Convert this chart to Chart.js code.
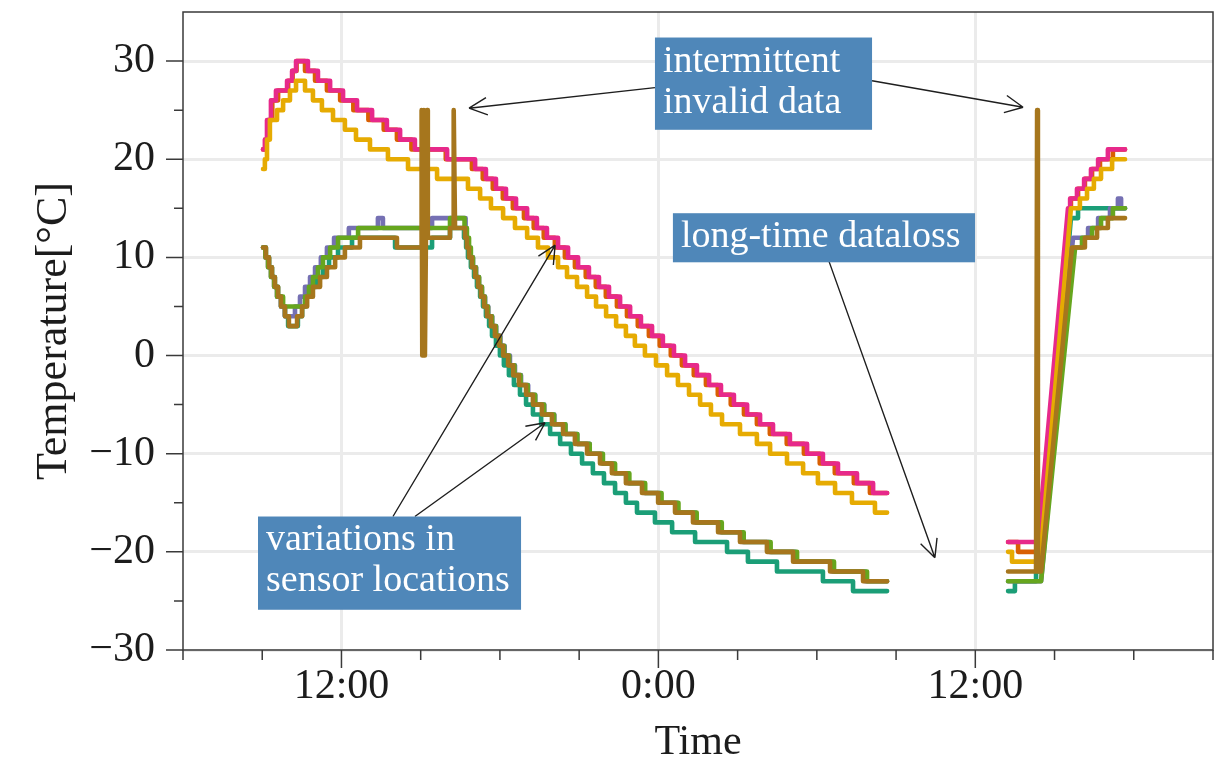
<!DOCTYPE html>
<html>
<head>
<meta charset="utf-8">
<script src="https://cdn.jsdelivr.net/npm/chart.js@4.4.0/dist/chart.umd.min.js"></script>
<style>
  html, body { margin: 0; padding: 0; background: #fff; }
  canvas { display: block; }
</style>
</head>
<body>
<canvas id="chart" width="1214" height="761"></canvas>
<script>
'use strict';

// [hours since midnight of day 1, temperature in degC]; null marks the long data gap
const teal = [
  [9.03, 11], [9.14, 10], [9.26, 9], [9.37, 8], [9.48, 7], [9.60, 6], [9.71, 5], [9.86, 4], [9.98, 3],
  [10.35, 4], [10.51, 5], [10.66, 6], [10.85, 7], [11.04, 8], [11.30, 9], [11.53, 10], [11.87, 11], [12.40, 12],
  [14.03, 11], [15.43, 12], [16.11, 13],
  [16.64, 12], [16.72, 11], [16.79, 10], [16.90, 9], [17.02, 8], [17.13, 7], [17.25, 6], [17.36, 5], [17.47, 4],
  [17.59, 3], [17.70, 2], [17.85, 1], [18.00, 0], [18.15, -1], [18.34, -2], [18.53, -3], [18.76, -4], [18.99, -5],
  [19.25, -6], [19.56, -7], [19.90, -8], [20.28, -9], [20.69, -10], [21.11, -11], [21.52, -12], [21.94, -13],
  [22.36, -14], [22.77, -15], [23.19, -16], [23.87, -17], [24.52, -18], [25.39, -19], [26.60, -20], [27.39, -21],
  [28.49, -22], [30.23, -23], [31.37, -24], [32.66, -24],
  [35, null],
  [37.24, -24], [37.50, -23], [38.30, -22], [38.49, -22], [39.62, 14], [39.89, 15], [41.67, 15]
];

const orange = [
  [9.03, 21], [9.12, 22], [9.22, 24], [9.38, 26], [9.60, 27], [9.98, 28], [10.15, 29], [10.30, 30], [10.62, 29],
  [11.00, 28], [11.45, 27], [11.95, 26], [12.45, 25], [13.02, 24], [13.60, 23], [14.10, 22], [14.65, 21], [15.95, 20],
  [16.94, 19], [17.35, 18], [17.73, 17], [18.11, 16], [18.49, 15], [18.91, 14], [19.28, 13], [19.66, 12], [20.08, 11],
  [20.46, 10], [20.84, 9], [21.25, 8], [21.63, 7], [22.01, 6], [22.43, 5], [22.81, 4], [23.22, 3], [23.64, 2],
  [24.05, 1], [24.47, 0], [24.89, -1], [25.34, -2], [25.80, -3], [26.25, -4], [26.74, -5], [27.24, -6], [27.73, -7],
  [28.22, -8], [28.86, -9], [29.51, -10], [30.11, -11], [30.68, -12], [31.40, -13], [32.01, -14], [32.66, -14],
  [35, null],
  [37.24, -19], [37.62, -20], [38.41, -20], [39.55, 15], [39.62, 16], [39.89, 17], [40.15, 18], [40.42, 19],
  [40.72, 20], [41.21, 21], [41.67, 21]
];

const purple = [
  [9.03, 11], [9.12, 10], [9.22, 9], [9.33, 8], [9.45, 7], [9.56, 6], [9.71, 5], [9.86, 4], [10.24, 5], [10.43, 6],
  [10.62, 7], [10.81, 8], [11.00, 9], [11.22, 10], [11.45, 11], [11.72, 12], [12.28, 13], [13.38, 14], [13.57, 13],
  [15.43, 14],
  [16.70, 13], [16.74, 12], [16.80, 11], [16.88, 10], [16.98, 9], [17.10, 8], [17.21, 7], [17.32, 6], [17.44, 5],
  [17.56, 4], [17.71, 3], [17.86, 2], [18.02, 1], [18.18, 0], [18.38, -1], [18.57, -2], [18.80, -3], [19.07, -4],
  [19.34, -5], [19.68, -6], [20.06, -7], [20.48, -8], [20.93, -9], [21.40, -10], [21.88, -11], [22.33, -12],
  [22.86, -13], [23.46, -14], [24.07, -15], [24.71, -16], [25.40, -17], [26.34, -18], [27.17, -19], [28.19, -20],
  [29.18, -21], [30.58, -22], [31.83, -23], [32.66, -23],
  [35, null],
  [37.24, -23], [38.49, -23], [39.70, 12], [40.27, 13], [40.65, 14], [41.10, 15], [41.40, 16], [41.52, 15], [41.67, 15]
];

const pink = [
  [9.03, 21], [9.10, 22], [9.18, 24], [9.33, 26], [9.52, 27], [9.94, 28], [10.13, 29], [10.28, 30], [10.73, 29],
  [11.11, 28], [11.57, 27], [12.06, 26], [12.59, 25], [13.16, 24], [13.72, 23], [14.22, 22], [14.78, 21], [16.00, 20],
  [17.06, 19], [17.47, 18], [17.85, 17], [18.23, 16], [18.61, 15], [19.03, 14], [19.40, 13], [19.78, 12], [20.20, 11],
  [20.58, 10], [20.96, 9], [21.37, 8], [21.75, 7], [22.13, 6], [22.55, 5], [22.93, 4], [23.34, 3], [23.76, 2],
  [24.17, 1], [24.59, 0], [25.01, -1], [25.46, -2], [25.92, -3], [26.37, -4], [26.86, -5], [27.36, -6], [27.85, -7],
  [28.34, -8], [28.98, -9], [29.63, -10], [30.23, -11], [30.80, -12], [31.52, -13], [32.13, -14], [32.66, -14],
  [35, null],
  [37.24, -19], [38.37, -19], [39.51, 15], [39.59, 16], [39.85, 17], [40.12, 18], [40.38, 19], [40.65, 20],
  [41.02, 21], [41.67, 21]
];

const green = [
  [9.03, 11], [9.12, 10], [9.22, 9], [9.33, 8], [9.45, 7], [9.56, 6], [9.79, 5], [10.62, 6], [10.77, 7], [10.92, 8],
  [11.11, 9], [11.30, 10], [11.57, 11], [11.87, 12], [12.63, 13], [16.11, 14],
  [16.66, 13], [16.75, 12], [16.83, 11], [16.90, 10], [16.98, 9], [17.09, 8], [17.21, 7], [17.32, 6], [17.43, 5],
  [17.55, 4], [17.70, 3], [17.85, 2], [18.00, 1], [18.16, 0], [18.35, -1], [18.55, -2], [18.78, -3], [19.05, -4],
  [19.33, -5], [19.67, -6], [20.05, -7], [20.48, -8], [20.93, -9], [21.40, -10], [21.90, -11], [22.36, -12],
  [22.90, -13], [23.50, -14], [24.12, -15], [24.76, -16], [25.45, -17], [26.40, -18], [27.23, -19], [28.25, -20],
  [29.25, -21], [30.65, -22], [31.90, -23], [32.66, -23],
  [35, null],
  [37.24, -23], [38.49, -23], [39.78, 11], [40.04, 12], [40.42, 13], [40.76, 14], [41.21, 15], [41.67, 15]
];

const yellow = [
  [9.03, 19], [9.10, 20], [9.18, 22], [9.29, 24], [9.56, 25], [9.79, 26], [10.05, 27], [10.28, 28], [10.62, 27],
  [10.92, 26], [11.26, 25], [11.68, 24], [12.13, 23], [12.55, 22], [13.08, 21], [13.76, 20], [14.52, 19], [15.62, 18],
  [16.79, 17], [17.25, 16], [17.66, 15], [18.12, 14], [18.57, 13], [19.03, 12], [19.44, 11], [19.82, 10], [20.20, 9],
  [20.54, 8], [20.92, 7], [21.30, 6], [21.64, 5], [22.02, 4], [22.40, 3], [22.77, 2], [23.11, 1], [23.49, 0],
  [23.91, -1], [24.33, -2], [24.74, -3], [25.16, -4], [25.58, -5], [25.99, -6], [26.41, -7], [27.09, -8], [27.73, -9],
  [28.23, -10], [28.87, -11], [29.48, -12], [30.04, -13], [30.69, -14], [31.33, -15], [32.20, -16], [32.66, -16],
  [35, null],
  [37.24, -20], [37.39, -21], [38.45, -21], [39.62, 15], [39.96, 16], [40.23, 17], [40.49, 18], [40.76, 19],
  [41.18, 20], [41.67, 20]
];

const brown = [
  [9.03, 11], [9.14, 10], [9.26, 9], [9.37, 8], [9.48, 7], [9.60, 6], [9.71, 5], [9.86, 4], [10.01, 3], [10.32, 4],
  [10.51, 5], [10.70, 6], [10.92, 7], [11.19, 8], [11.45, 9], [11.76, 10], [12.13, 11], [12.70, 12], [14.10, 11],
  [15.03, 11], [15.04, 25], [15.06, 0], [15.12, 25], [15.16, 0], [15.24, 25], [15.27, 12],
  [16.11, 13], [16.24, 13], [16.26, 25], [16.30, 13],
  [16.68, 12], [16.75, 11], [16.83, 10], [16.94, 9], [17.06, 8], [17.17, 7], [17.28, 6], [17.40, 5], [17.51, 4],
  [17.66, 3], [17.81, 2], [17.97, 1], [18.12, 0], [18.31, -1], [18.50, -2], [18.72, -3], [18.99, -4], [19.25, -5],
  [19.59, -6], [19.97, -7], [20.39, -8], [20.84, -9], [21.30, -10], [21.79, -11], [22.24, -12], [22.77, -13],
  [23.38, -14], [23.99, -15], [24.63, -16], [25.31, -17], [26.26, -18], [27.09, -19], [28.11, -20], [29.10, -21],
  [30.50, -22], [31.75, -23], [32.66, -23],
  [35, null],
  [37.24, -22], [38.30, -22], [38.34, 25], [38.37, -22], [38.49, -22], [39.66, 11], [40.15, 12], [40.61, 13],
  [41.02, 14], [41.67, 14]
];

// axis ticks: hours of day 1 (24 = midnight), degC
const xLabelHours = [12, 24, 36];
const xLabelText = ['12:00', '0:00', '12:00'];
const yLabelValues = [-30, -20, -10, 0, 10, 20, 30];

const SERIF = "'Liberation Serif', 'DejaVu Serif', serif";
const INK = '#1c1c1c';

// annotations, placed in data units (hours, degC)
const noteBoxes = [
  { x0: 23.87, x1: 32.09, top: 32.4, bottom: 23.0, lines: ['intermittent', 'invalid data'] },
  { x0: 24.55, x1: 35.99, top: 14.5, bottom: 9.5, lines: ['long-time dataloss'] },
  { x0: 8.84, x1: 18.80, top: -16.4, bottom: -25.9, lines: ['variations in', 'sensor locations'] }
];
const noteArrows = [
  [23.87, 27.3, 16.83, 25.2],
  [32.09, 28.0, 37.81, 25.3],
  [30.42, 9.9, 34.47, -20.6],
  [13.95, -16.4, 20.09, 11.25],
  [14.78, -16.4, 19.71, -6.85]
];

// samples are held until the next one; big jumps (gaps, spikes) are drawn straight
function toPoints(samples) {
  const pts = [];
  let prev = null;
  for (const [t, v] of samples) {
    if (v !== null && prev !== null && Math.abs(v - prev) <= 5) pts.push({ x: t, y: prev });
    pts.push({ x: t, y: v });
    prev = v;
  }
  return pts;
}

function line(data, color) {
  return {
    data: toPoints(data),
    borderColor: color,
    borderWidth: 4.6,
    pointRadius: 0,
    fill: false,
    tension: 0,
    spanGaps: false,
    borderCapStyle: 'round',
    borderJoinStyle: 'round'
  };
}

// drop the extra room Chart.js keeps for edge labels, so the plot box fills the frame
function noEdgePadding(s) {
  s.paddingTop = 0;
  s.paddingBottom = 0;
  s.paddingLeft = 0;
  s.paddingRight = 0;
}

const notesPlugin = {
  id: 'notes',
  afterDatasetsDraw(chart) {
    const { ctx, scales: { x, y } } = chart;
    ctx.save();
    ctx.strokeStyle = '#1e1e1e';
    ctx.lineWidth = 1.4;
    for (const [t0, v0, t1, v1] of noteArrows) {
      const ax = x.getPixelForValue(t0), ay = y.getPixelForValue(v0);
      const bx = x.getPixelForValue(t1), by = y.getPixelForValue(v1);
      const ang = Math.atan2(by - ay, bx - ax);
      ctx.beginPath();
      ctx.moveTo(ax, ay);
      ctx.lineTo(bx, by);
      for (const s of [-1, 1]) {
        ctx.moveTo(bx - 20 * Math.cos(ang + s * 0.45), by - 20 * Math.sin(ang + s * 0.45));
        ctx.lineTo(bx, by);
      }
      ctx.stroke();
    }
    ctx.font = '38px ' + SERIF;
    ctx.textBaseline = 'middle';
    ctx.textAlign = 'left';
    for (const b of noteBoxes) {
      const left = x.getPixelForValue(b.x0), right = x.getPixelForValue(b.x1);
      const top = y.getPixelForValue(b.top), bottom = y.getPixelForValue(b.bottom);
      ctx.fillStyle = '#4f87b9';
      ctx.fillRect(left, top, right - left, bottom - top);
      ctx.fillStyle = '#ffffff';
      b.lines.forEach((txt, i) => ctx.fillText(txt, left + 8, top + 24 + i * 41));
    }
    ctx.restore();
  }
};

const framePlugin = {
  id: 'frame',
  afterDraw(chart) {
    const { ctx, chartArea: a, scales: { x, y } } = chart;
    ctx.save();
    ctx.strokeStyle = '#3a3a3a';
    ctx.lineWidth = 1.5;
    ctx.beginPath();
    y.ticks.forEach(t => {
      if (t.value > 30) return;
      const py = y.getPixelForValue(t.value);
      ctx.moveTo(a.left, py);
      ctx.lineTo(a.left - (t.value % 10 === 0 ? 17 : 9), py);
    });
    x.ticks.forEach(t => {
      const px = x.getPixelForValue(t.value);
      ctx.moveTo(px, a.bottom);
      ctx.lineTo(px, a.bottom + (t.value % 12 === 0 ? 18 : 10));
    });
    ctx.stroke();
    ctx.strokeRect(a.left, a.top, a.right - a.left, a.bottom - a.top);
    ctx.restore();
  }
};

new Chart(document.getElementById('chart'), {
  type: 'line',
  data: {
    // first dataset is painted last, so the brown sensor sits on top
    datasets: [
      line(brown, '#a6761d'),
      line(yellow, '#e6ab02'),
      line(green, '#66a61e'),
      line(pink, '#e7298a'),
      line(purple, '#7570b3'),
      line(orange, '#d95f02'),
      line(teal, '#1b9e77')
    ]
  },
  options: {
    responsive: false,
    animation: false,
    devicePixelRatio: 1,
    layout: { padding: { top: 12, right: 1, left: 0, bottom: 0 } },
    plugins: { legend: { display: false }, tooltip: { enabled: false } },
    scales: {
      x: {
        type: 'linear',
        min: 6,
        max: 45,
        afterFit: s => { s.height = 111; noEdgePadding(s); },
        border: { display: false },
        grid: {
          drawTicks: false,
          lineWidth: 3,
          color: c => (c.tick && xLabelHours.includes(c.tick.value)) ? '#ebebeb' : 'rgba(0,0,0,0)'
        },
        ticks: {
          stepSize: 3,
          autoSkip: false,
          maxRotation: 0,
          padding: 12,
          color: INK,
          font: { family: SERIF, size: 42 },
          callback: v => {
            const i = xLabelHours.indexOf(v);
            return i >= 0 ? xLabelText[i] : '';
          }
        },
        title: {
          display: true,
          text: 'Time',
          color: INK,
          font: { family: SERIF, size: 42, lineHeight: 0.86 },
          padding: { top: 0, bottom: 0 }
        }
      },
      y: {
        min: -30,
        max: 35,
        afterFit: s => { s.width = 183; noEdgePadding(s); },
        border: { display: false },
        grid: {
          drawTicks: false,
          lineWidth: 3,
          color: c => (c.tick && yLabelValues.includes(c.tick.value)) ? '#ebebeb' : 'rgba(0,0,0,0)'
        },
        ticks: {
          stepSize: 5,
          autoSkip: false,
          padding: 28,
          color: INK,
          font: { family: SERIF, size: 42 },
          callback: v => yLabelValues.includes(v) ? String(v).replace('-', '\u2212') : ''
        },
        title: {
          display: true,
          text: 'Temperature[°C]',
          color: INK,
          font: { family: SERIF, size: 44, lineHeight: 1.2 },
          padding: { top: 28, bottom: 0 }
        }
      }
    }
  },
  plugins: [notesPlugin, framePlugin]
});
</script>
</body>
</html>
